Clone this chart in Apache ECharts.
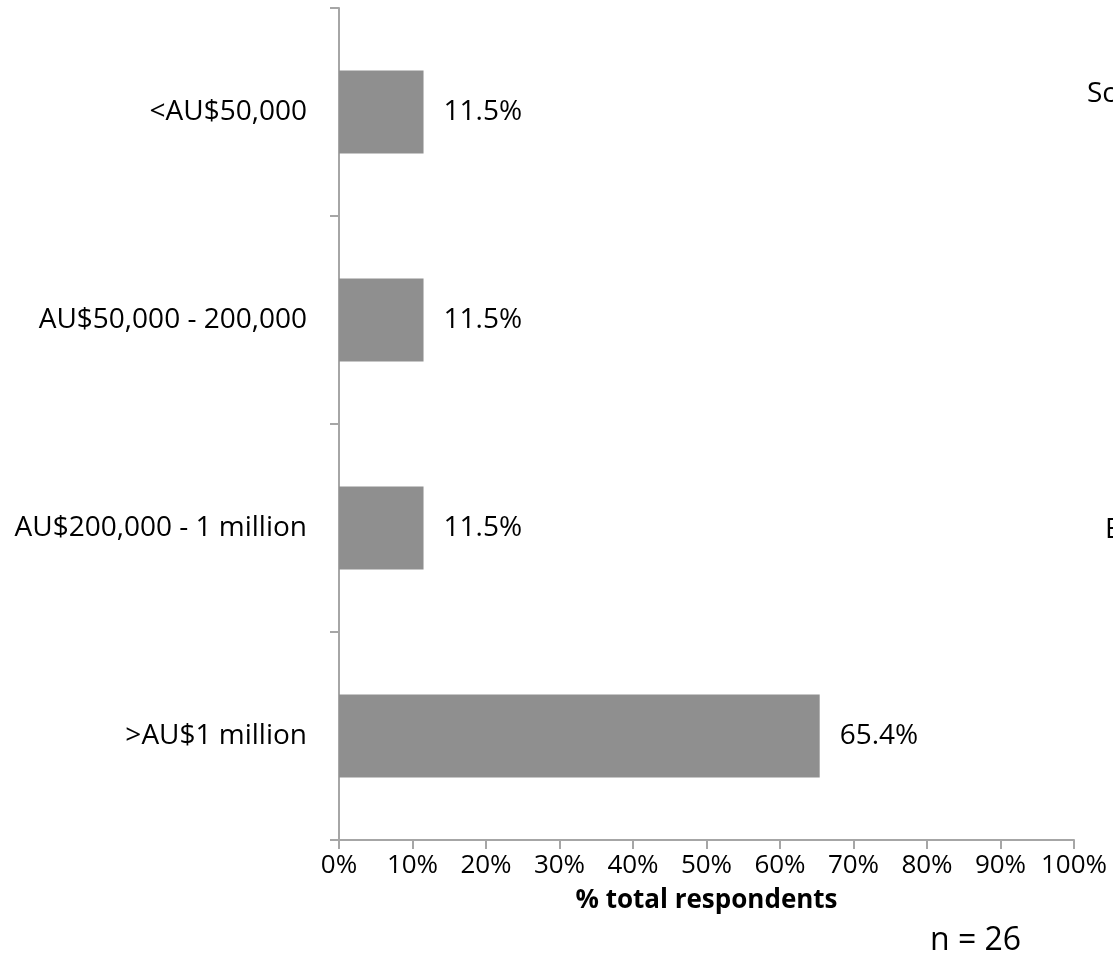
<!DOCTYPE html>
<html>
<head>
<meta charset="utf-8">
<script src="https://cdn.jsdelivr.net/npm/echarts@6/dist/echarts.min.js"></script>
<style>
  html, body { margin: 0; padding: 0; background: #fff; }
  #chart { width: 1113px; height: 957px; }
</style>
</head>
<body>
<div id="chart"></div>
<script>
// Annual revenue bands of respondents
const categories = ['<AU$50,000', 'AU$50,000 - 200,000', 'AU$200,000 - 1 million', '>AU$1 million'];
const shares = [11.5, 11.5, 11.5, 65.4];
const xTicks = [0, 10, 20, 30, 40, 50, 60, 70, 80, 90, 100];

const FONT = 'Open Sans';
const AXIS_GREY = '#a6a6a6';

const chart = echarts.init(document.getElementById('chart'), null, { renderer: 'canvas' });

chart.setOption({
  animation: false,
  backgroundColor: '#ffffff',
  grid: { left: 339, right: 39, top: 8, bottom: 117, containLabel: false },
  xAxis: {
    type: 'value',
    min: xTicks[0],
    max: xTicks[xTicks.length - 1],
    interval: 10,
    axisLine: { show: true, lineStyle: { color: AXIS_GREY, width: 2 } },
    axisTick: { show: true, length: 9, lineStyle: { color: AXIS_GREY, width: 2 } },
    splitLine: { show: false },
    axisLabel: {
      margin: 13,
      fontFamily: FONT,
      fontSize: 26,
      color: '#000',
      formatter: v => v + '%'
    },
    name: '% total respondents',
    nameLocation: 'middle',
    nameGap: 48,
    nameTextStyle: { fontFamily: FONT, fontSize: 26, fontWeight: 'bold', color: '#000' }
  },
  yAxis: {
    type: 'category',
    data: categories,
    inverse: true,
    axisLine: { show: true, lineStyle: { color: AXIS_GREY, width: 2 } },
    axisTick: { show: true, length: 9, alignWithLabel: false, lineStyle: { color: AXIS_GREY, width: 2 } },
    axisLabel: {
      margin: 32,
      fontFamily: FONT,
      fontSize: 28,
      color: '#000'
    }
  },
  series: [{
    type: 'bar',
    data: shares,
    barWidth: '40%',
    itemStyle: { color: '#8f8f8f' },
    label: {
      show: true,
      position: 'right',
      distance: 20,
      fontFamily: FONT,
      fontSize: 28,
      color: '#000',
      formatter: p => p.value.toFixed(1) + '%'
    }
  }],
  graphic: [
    {
      type: 'text',
      left: 930,
      top: 925,
      style: { text: 'n = 26', fontFamily: FONT, fontSize: 32, fill: '#000' }
    },
    {
      type: 'text',
      left: 1087,
      top: 80,
      style: { text: 'Sc', fontFamily: FONT, fontSize: 28, fill: '#000' }
    },
    {
      type: 'text',
      left: 1105,
      top: 516,
      style: { text: 'E', fontFamily: FONT, fontSize: 28, fill: '#000' }
    }
  ]
});
</script>
</body>
</html>
